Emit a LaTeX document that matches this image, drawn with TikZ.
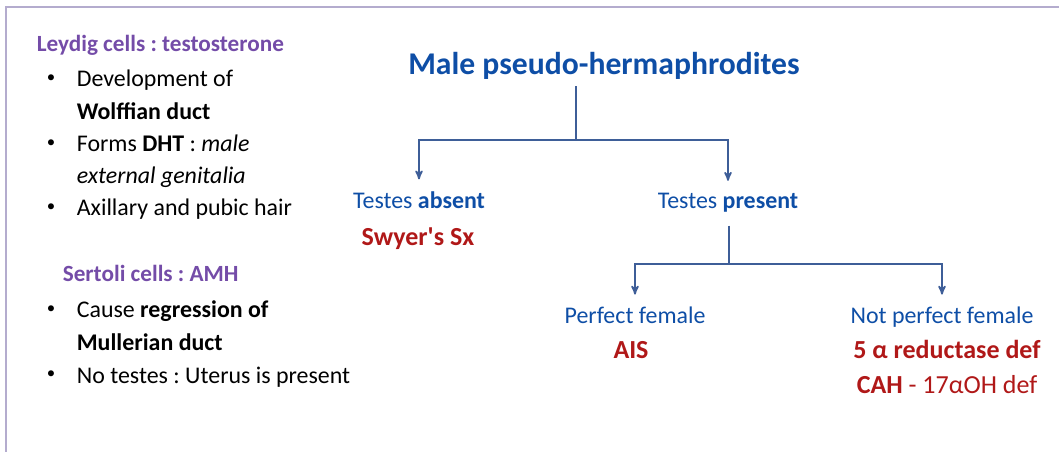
\documentclass[tikz,border=0pt]{standalone}
\usepackage{fontspec}
\setmainfont{Carlito}
\usetikzlibrary{arrows}
\frenchspacing

\definecolor{headpurple}{RGB}{116,76,168}
\definecolor{titleblue}{RGB}{14,78,166}
\definecolor{linkblue}{RGB}{62,94,152}
\definecolor{causered}{RGB}{176,24,24}
\definecolor{framepurple}{RGB}{180,172,206}

\begin{document}
\begin{tikzpicture}[x=0.025cm,y=-0.025cm,->,>=stealth',line width=1.2pt,
  head node/.style={anchor=base west,inner sep=0pt,text=headpurple,font=\fontsize{16.5}{20}\selectfont\bfseries},
  item node/.style={anchor=base west,inner sep=0pt,font=\fontsize{17}{20}\selectfont},
  bullet node/.style={anchor=center,inner sep=0pt,font=\fontsize{12}{14}\selectfont},
  title node/.style={anchor=base,inner xsep=0pt,inner ysep=4pt,text=titleblue,font=\fontsize{22.5}{27}\selectfont\bfseries},
  branch node/.style={anchor=base,inner xsep=0pt,inner ysep=8.5pt,text=titleblue,font=\fontsize{17}{20}\selectfont},
  cause node/.style={anchor=base,inner sep=0pt,text=causered,font=\fontsize{18.5}{22}\selectfont\bfseries}]

  \useasboundingbox (0,0) rectangle (1059,452);
  \draw[-,line width=1.5pt,framepurple] (6,452) -- (6,7) -- (1059,7);

  % left column
  \node[head node] (leydig) at (36,52) {Leydig cells : testosterone};
  \node[bullet node] (b1) at (51,79) {•};
  \node[item node] (dev) at (76,87) {Development of};
  \node[item node] (wolff) at (76,120) {\textbf{Wolffian duct}};
  \node[bullet node] (b2) at (51,144) {•};
  \node[item node] (dht) at (76,152) {Forms \textbf{DHT} : \textit{male}};
  \node[item node] (genit) at (76,184) {\textit{external genitalia}};
  \node[bullet node] (b3) at (51,208) {•};
  \node[item node] (hair) at (76,216) {Axillary and pubic hair};

  \node[head node] (sertoli) at (62,282) {Sertoli cells : AMH};
  \node[bullet node] (b4) at (51,310) {•};
  \node[item node] (cause) at (76,318) {Cause \textbf{regression of}};
  \node[item node] (muller) at (76,351) {\textbf{Mullerian duct}};
  \node[bullet node] (b5) at (51,375) {•};
  \node[item node] (uterus) at (76,383) {No testes : Uterus is present};

  % tree
  \node[title node] (title) at (604,75) {Male pseudo-hermaphrodites};
  \node[branch node] (absent) at (419,209) {Testes \textbf{absent}};
  \node[branch node] (present) at (728,209) {Testes \textbf{present}};
  \node[cause node] (swyer) at (418,246) {Swyer\textquotesingle s Sx};
  \node[branch node] (perfect) at (635,324) {Perfect female};
  \node[branch node] (notperfect) at (942,324) {Not perfect female};
  \node[cause node] (ais) at (631,358) {AIS};
  \node[cause node] (reductase) at (947,358) {5 α reductase def};
  \node[cause node,font=\fontsize{18.5}{22}\selectfont] (cah) at (947,394) {\textbf{CAH} - 17αOH def};

  \coordinate (fork1) at (576,140);
  \coordinate (fork2) at (729,264);

  \draw[-,linkblue] (title.south -| fork1) -- (fork1);
  \draw[linkblue] (fork1) -| (absent);
  \draw[linkblue] (fork1) -| (present);
  \draw[-,linkblue] (present.south -| fork2) -- (fork2);
  \draw[linkblue] (fork2) -| (perfect);
  \draw[linkblue] (fork2) -| (notperfect);
\end{tikzpicture}
\end{document}
